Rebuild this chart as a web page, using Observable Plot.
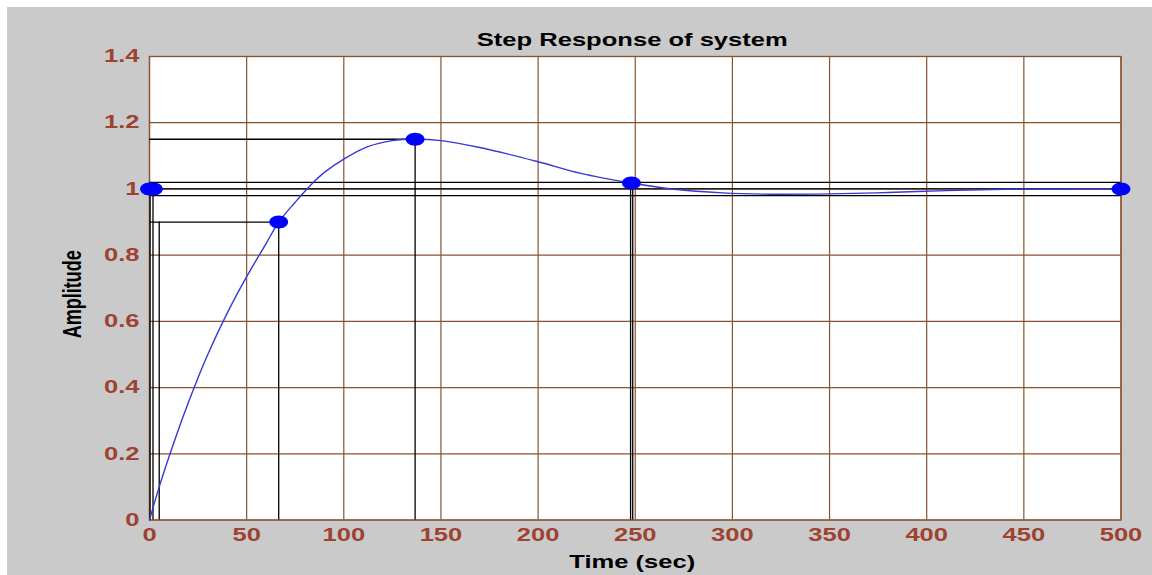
<!DOCTYPE html>
<html><head><meta charset="utf-8">
<script src="https://cdn.jsdelivr.net/npm/d3@7"></script>
<script src="https://cdn.jsdelivr.net/npm/@observablehq/plot@0.6"></script>
<style>
html,body{margin:0;padding:0;background:#fff;}
#chart{position:absolute;left:7px;top:7px;}
</style></head><body><div id="chart"></div>
<script>
// Step response curve
const time = [0, 5, 10, 15, 20, 25, 30, 40, 50, 60, 66.5, 75, 83, 90, 100, 112, 125, 137, 150, 170, 200, 222, 248, 270, 295, 320, 350, 380, 410, 440, 470, 500];
const amplitude = [0, 0.10, 0.19, 0.275, 0.355, 0.43, 0.50, 0.625, 0.735, 0.835, 0.9, 0.96, 1.012, 1.05, 1.09, 1.127, 1.146, 1.15, 1.146, 1.125, 1.082, 1.047, 1.018, 0.999, 0.988, 0.984, 0.985, 0.989, 0.995, 0.999, 1.0, 1.0];
// characteristic markers
const markerTime = [0, 2, 66.5, 136.7, 248, 500];
const markerAmp = [1, 1, 0.9, 1.15, 1.018, 1];
// horizontal reference lines
const hLineY = [1.15, 1.02, 1.0, 0.98, 0.9];
const hLineX1 = [0, 0, 0, 0, 0.3];
const hLineX2 = [136.7, 500, 500, 500, 66.5];
// vertical reference lines
const vLineX = [0.3, 1.8, 5, 66.5, 136.7, 247.6, 248.7];
const vLineY1 = [0, 0, 0, 0, 0, 0, 0];
const vLineY2 = [1, 1, 0.9, 0.9, 1.15, 1.02, 1.02];
// ticks
const xTicks = [0, 50, 100, 150, 200, 250, 300, 350, 400, 450, 500];
const yTicks = [0, 0.2, 0.4, 0.6, 0.8, 1, 1.2, 1.4];
const yTickLabels = ["0", "0.2", "0.4", "0.6", "0.8", "1", "1.2", "1.4"];
const titleText = "Step Response of system";
const xLabelText = "Time (sec)";
const yLabelText = "Amplitude";

const curve = time.map((t, i) => ({t, a: amplitude[i]}));
const markers = markerTime.map((t, i) => ({t, a: markerAmp[i]}));
const hLines = hLineY.map((y, i) => ({y, x1: hLineX1[i], x2: hLineX2[i]}));
const vLines = vLineX.map((x, i) => ({x, y1: vLineY1[i], y2: vLineY2[i]}));

const ellipse = {draw(ctx, size) {
  const r = Math.sqrt(size / Math.PI), rx = r * 1.45, ry = r, k = 0.5523;
  ctx.moveTo(rx, 0);
  ctx.bezierCurveTo(rx, ry * k, rx * k, ry, 0, ry);
  ctx.bezierCurveTo(-rx * k, ry, -rx, ry * k, -rx, 0);
  ctx.bezierCurveTo(-rx, -ry * k, -rx * k, -ry, 0, -ry);
  ctx.bezierCurveTo(rx * k, -ry, rx, -ry * k, rx, 0);
  ctx.closePath();
}};

const brown = "#88522e";
const tickColor = "#9e4232";

const chart = Plot.plot({
  width: 1145, height: 568,
  marginLeft: 142, marginRight: 31.5, marginTop: 49, marginBottom: 55.5,
  style: {background: "#cacaca", fontFamily: "'Liberation Sans', Arial, sans-serif", fontWeight: "bold", overflow: "visible"},
  x: {domain: [0, 500]},
  y: {domain: [0, 1.4]},
  marks: [
    Plot.frame({fill: "#fff", stroke: null}),
    Plot.gridX({ticks: xTicks, stroke: brown, strokeOpacity: 1, strokeWidth: 1.2}),
    Plot.gridY({ticks: yTicks, stroke: brown, strokeOpacity: 1, strokeWidth: 1.2}),
    Plot.frame({stroke: brown, strokeWidth: 1.3}),
    Plot.ruleY(hLines, {y: "y", x1: "x1", x2: "x2", stroke: "#000", strokeWidth: 1.3}),
    Plot.ruleX(vLines, {x: "x", y1: "y1", y2: "y2", stroke: "#000", strokeWidth: 1.3}),
    Plot.line(curve, {x: "t", y: "a", stroke: "#3838d2", strokeWidth: 1.4, curve: "catmull-rom"}),
    Plot.dot(markers, {x: "t", y: "a", r: 6.5, symbol: ellipse, fill: "#0000ff", stroke: null}),
    Plot.axisX({ticks: xTicks, tickSize: 0, tickPadding: 8, label: null, fill: tickColor, fontSize: 18}),
    Plot.axisY({ticks: yTicks, tickSize: 0, tickPadding: 10, label: null, fill: tickColor, fontSize: 18,
      tickFormat: d => yTickLabels[yTicks.findIndex(v => Math.abs(v - d) < 1e-9)]}),
    Plot.text([titleText], {frameAnchor: "top", dy: -16, lineAnchor: "middle", fontSize: 18, fill: "#000", dx: -3}),
    Plot.text([xLabelText], {frameAnchor: "bottom", dy: 42, lineAnchor: "middle", fontSize: 18, fill: "#000", dx: -3}),
    Plot.text([yLabelText], {frameAnchor: "left", dx: -77, dy: 6, rotate: -90, textAnchor: "middle", lineAnchor: "middle", fontSize: 18, fill: "#000"})
  ]
});
document.getElementById("chart").appendChild(chart);

// horizontal stretch of the lettering, as in the picture
chart.querySelectorAll("text").forEach(el => {
  const tr = el.getAttribute("transform");
  if (tr && /translate\([^)]*\)/.test(tr)) {
    el.setAttribute("transform", tr.replace(/(translate\([^)]*\))/, "$1 scale(1.42,1)"));
  } else {
    const x = +(el.getAttribute("x") || 0), y = +(el.getAttribute("y") || 0);
    el.setAttribute("x", 0); el.setAttribute("y", 0);
    el.setAttribute("transform", `translate(${x},${y}) scale(1.42,1)` + (tr ? " " + tr : ""));
  }
});
</script></body></html>
